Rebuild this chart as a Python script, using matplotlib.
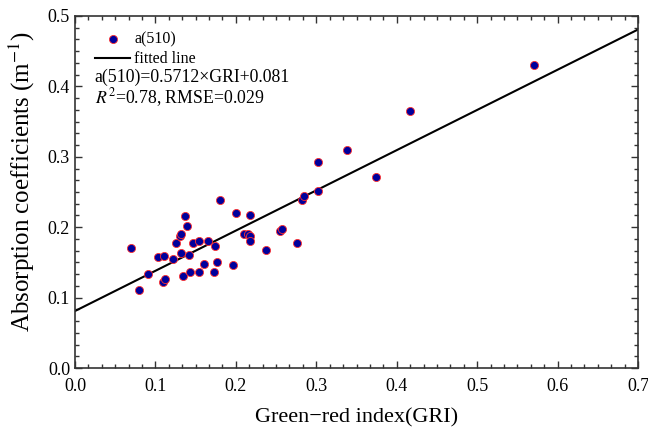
import numpy as np
import matplotlib
matplotlib.use("Agg")
import matplotlib.pyplot as plt
from matplotlib.ticker import AutoMinorLocator, MultipleLocator

# GRI vs a(510)
gri = [0.070, 0.080, 0.091, 0.103, 0.111, 0.110, 0.112, 0.122, 0.126, 0.131,
       0.132, 0.132, 0.134, 0.137, 0.139, 0.142, 0.143, 0.147, 0.154, 0.154,
       0.161, 0.165, 0.173, 0.174, 0.176, 0.180, 0.196, 0.200, 0.210, 0.215,
       0.217, 0.218, 0.218, 0.237, 0.255, 0.257, 0.276, 0.282, 0.285, 0.302,
       0.302, 0.338, 0.374, 0.417, 0.571]
a510 = [0.171, 0.111, 0.134, 0.158, 0.159, 0.122, 0.126, 0.155, 0.178, 0.188,
        0.190, 0.164, 0.131, 0.216, 0.202, 0.161, 0.137, 0.178, 0.180, 0.136,
        0.148, 0.181, 0.136, 0.174, 0.150, 0.238, 0.147, 0.220, 0.190, 0.190,
        0.218, 0.188, 0.180, 0.167, 0.195, 0.198, 0.178, 0.238, 0.245, 0.251,
        0.293, 0.310, 0.271, 0.365, 0.431]

slope = 0.5712
intercept = 0.081
r2 = 0.78
rmse = 0.029

plt.rcParams['font.family'] = ['Liberation Serif', 'DejaVu Serif']
plt.rcParams['mathtext.fontset'] = 'stix'

fig = plt.figure(figsize=(6.48, 4.32), dpi=100)
ax = fig.add_axes([0.1157, 0.148, 0.869, 0.815])

ax.scatter(gri, a510, s=34, c="#00009c", edgecolors="#ff3030", linewidths=0.6,
           zorder=3, label="a(510)")
xl = np.array([0.0, 0.7])
ax.plot(xl, slope * xl + intercept, "-", c="k", lw=1.5, label="fitted line")

ax.set_xlim(0, 0.7)
ax.set_ylim(0, 0.5)
ax.xaxis.set_major_locator(MultipleLocator(0.1))
ax.yaxis.set_major_locator(MultipleLocator(0.1))
ax.xaxis.set_minor_locator(AutoMinorLocator(6))
ax.yaxis.set_minor_locator(AutoMinorLocator(6))
ax.tick_params(which="major", direction="in", length=5, width=1,
               top=True, right=True, labelsize=13, colors="#333333",
               labelcolor="k")
ax.tick_params(which="minor", direction="in", length=3, width=1,
               top=True, right=True, colors="#333333")
ax.tick_params("x", which="major", pad=7)
for s in ax.spines.values():
    s.set_linewidth(1.2)
    s.set_color("#333333")

ax.set_xlabel("Green\u2212red index(GRI)", size=16, labelpad=10)
ax.set_ylabel("Absorption coefficients (m$^{\\mathsf{-}1}$)", size=18)
ax.yaxis.set_label_coords(-0.067, 0.53)

ax.legend(loc="upper left", frameon=False, fontsize=11.5, handlelength=2.2,
          handletextpad=0.25, borderaxespad=0.0, labelspacing=0.25,
          borderpad=0.2, bbox_to_anchor=(0.03, 0.965))
ax.text(0.035, 0.825, "a(510)=%.4f\u00d7GRI+%.3f" % (slope, intercept),
        transform=ax.transAxes, size=12.8, va="center")
ax.text(0.035, 0.768, "$R^2$=%.2f, RMSE=%.3f" % (r2, rmse),
        transform=ax.transAxes, size=12.8, va="center")

fig.savefig("out.png", dpi=100)
